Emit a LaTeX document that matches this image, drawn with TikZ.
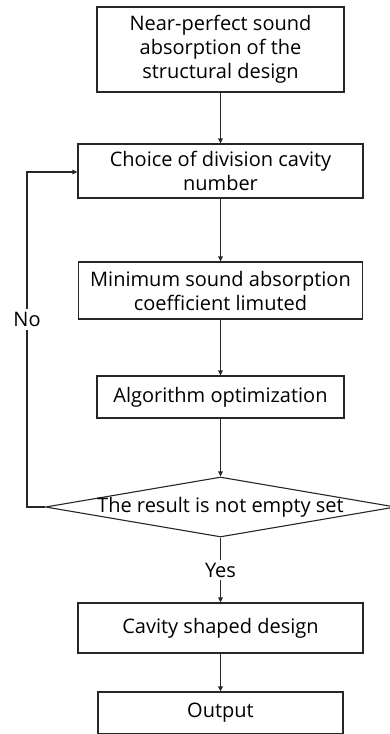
\documentclass[tikz,border=0pt]{standalone}
\usepackage{fontspec}
\setmainfont{Open Sans}
\usetikzlibrary{shapes.geometric,arrows.meta}
\begin{document}
\begin{tikzpicture}[x=1pt, y=-1pt, font=\fontsize{20}{24}\selectfont]
        % Define block styles
        \tikzstyle{stepbox} = [rectangle, draw=black!85, line width=1.1pt, text centered, align=center, inner sep=0pt]
        \tikzstyle{decision} = [diamond, draw=black!85, line width=1.1pt, aspect=5.8, minimum width=350pt, minimum height=60pt, inner sep=0pt]
        \tikzstyle{arrow} = [-{Triangle[length=5pt, width=4.5pt]}, line width=1.1pt, draw=black!85]

        \useasboundingbox (0,0) rectangle (390,734);

        % Nodes
        \node[stepbox, minimum width=247pt, minimum height=85pt] (design) at (220.5,49.5) {Near-perfect sound\\absorption of the\\structural design};
        \node[stepbox, minimum width=285pt, minimum height=54pt, below of=design, node distance=121.5pt] (choice) {Choice of division cavity\\number};
        \node[stepbox, minimum width=284pt, minimum height=57pt, below of=choice, node distance=119.5pt] (coeff) {Minimum sound absorption\\coefficient limuted};
        \node[stepbox, minimum width=247pt, minimum height=42pt, below of=coeff, node distance=106.5pt] (optim) {Algorithm optimization};
        \node[decision, below of=optim, node distance=110pt] (result) {};
        \node at (result.center) (resultText) {The result is not empty set};
        \node[stepbox, minimum width=285pt, minimum height=50pt, below of=result, node distance=121pt] (cavity) {Cavity shaped design};
        \node[stepbox, minimum width=245pt, minimum height=42pt, below of=cavity, node distance=85pt] (output) {Output};

        % Loop corners
        \coordinate (loopLow) at (27,507);
        \coordinate (loopTop) at (27,172);

        % Arrows
        \draw[arrow] (design) -- (choice);
        \draw[arrow] (choice) -- (coeff);
        \draw[arrow] (coeff) -- (optim);
        \draw[arrow] (optim) -- (result);
        \draw[arrow] (result) -- (cavity) node[midway, fill=white, inner sep=3pt] {Yes};
        \draw[arrow] (result.west) -- (loopLow) -- node[pos=0.56, fill=white, inner sep=3pt] {No} (loopTop) -- (choice.west |- loopTop);

        \draw[arrow] (cavity) -- (output);

    \end{tikzpicture}
\end{document}
